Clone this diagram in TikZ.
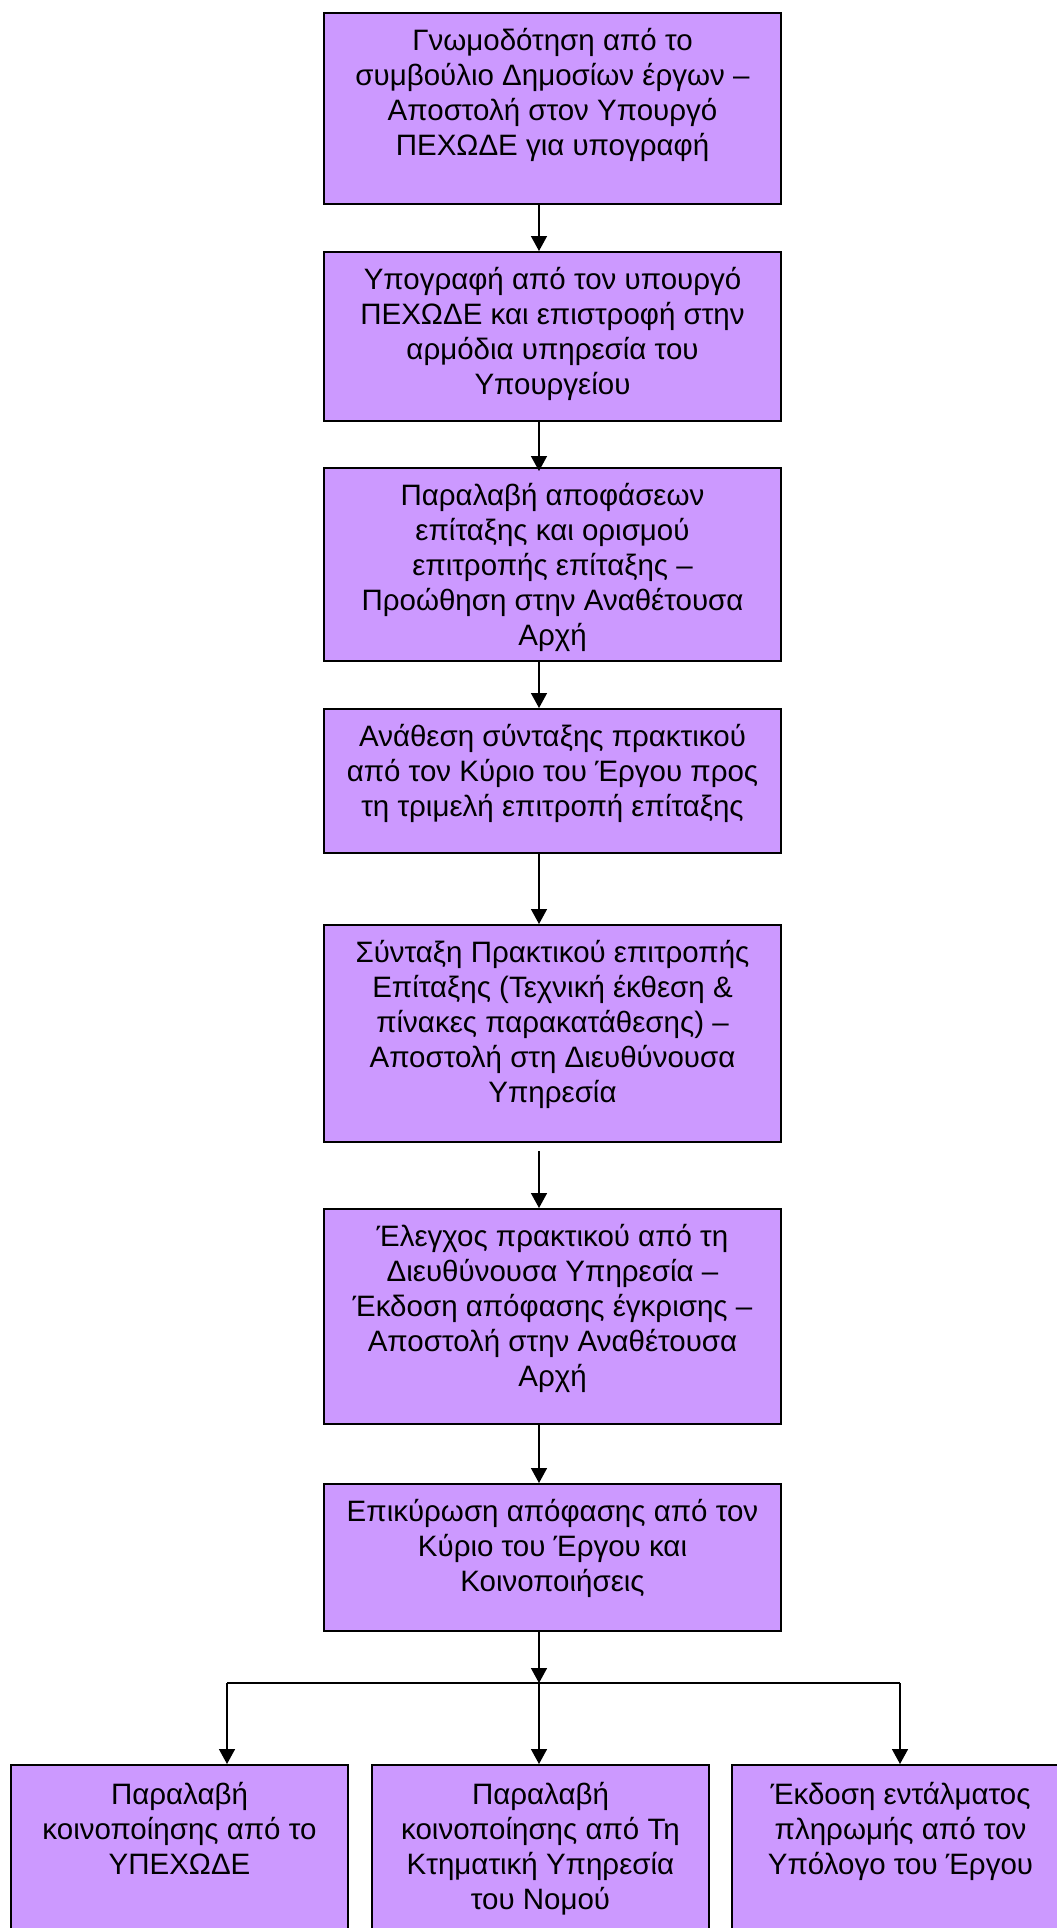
\documentclass[tikz,border=0pt]{standalone}
\usepackage{fontspec}
\setmainfont{Liberation Sans}
\usetikzlibrary{arrows.meta}
\definecolor{boxfill}{HTML}{CC99FF}
\tikzset{
  box/.style={draw=black, line width=2pt, fill=boxfill, inner sep=0pt, anchor=north west},
  link/.style={line width=1.5pt, -{Triangle[width=16pt,length=15pt]}},
  plain/.style={line width=1.5pt},
}
% #1 height, #2 width, #3 space above the first line, #4 lines
\newcommand{\boxbody}[4]{\parbox[t][#1pt][t]{#2pt}{\centering\fontsize{29.5}{35}\selectfont\vspace*{#3pt}\strut#4\par}}
\begin{document}
\begin{tikzpicture}[x=1pt,y=-1pt]
\useasboundingbox (0,0) rectangle (1057,1928);
\fill[white] (0,0) rectangle (1057,1928);

\node[box] (b1) at (323,12) {\boxbody{191}{457}{12.5}{Γνωμοδότηση από το\\ συμβούλιο Δημοσίων έργων –\\ Αποστολή στον Υπουργό\\ ΠΕΧΩΔΕ για υπογραφή}};
\node[box] (b2) at (323,251) {\boxbody{169}{457}{13}{Υπογραφή από τον υπουργό\\ ΠΕΧΩΔΕ και επιστροφή στην\\ αρμόδια υπηρεσία του\\ Υπουργείου}};
\node[box] (b3) at (323,467) {\boxbody{193}{457}{13}{Παραλαβή αποφάσεων\\ επίταξης και ορισμού\\ επιτροπής επίταξης –\\ Προώθηση στην Αναθέτουσα\\ Αρχή}};
\node[box] (b4) at (323,708) {\boxbody{144}{457}{13}{Ανάθεση σύνταξης πρακτικού\\ από τον Κύριο του Έργου προς\\ τη τριμελή επιτροπή επίταξης}};
\node[box] (b5) at (323,924) {\boxbody{217}{457}{13}{Σύνταξη Πρακτικού επιτροπής\\ Επίταξης (Τεχνική έκθεση \&\\ πίνακες παρακατάθεσης) –\\ Αποστολή στη Διευθύνουσα\\ Υπηρεσία}};
\node[box] (b6) at (323,1208) {\boxbody{215}{457}{13}{Έλεγχος πρακτικού από τη\\ Διευθύνουσα Υπηρεσία –\\ Έκδοση απόφασης έγκρισης –\\ Αποστολή στην Αναθέτουσα\\ Αρχή}};
\node[box] (b7) at (323,1483) {\boxbody{147}{457}{13}{Επικύρωση απόφασης από τον\\ Κύριο του Έργου και\\ Κοινοποιήσεις}};

\node[box] (ba) at (10,1764) {\boxbody{190}{337}{14.5}{Παραλαβή\\ κοινοποίησης από το\\ ΥΠΕΧΩΔΕ}};
\node[box] (bb) at (371,1764) {\boxbody{190}{337}{14.5}{Παραλαβή\\ κοινοποίησης από Τη\\ Κτηματική Υπηρεσία\\ του Νομού}};
\node[box] (bc) at (731,1764) {\boxbody{190}{337}{14.5}{Έκδοση εντάλματος\\ πληρωμής από τον\\ Υπόλογο του Έργου}};

% vertical spine of the flow
\coordinate (spine) at (539,0);
\draw[link] (b1.south -| spine) -- (b2.north -| spine);
\draw[link, shorten >=-4pt] (b2.south -| spine) -- (b3.north -| spine);
\draw[link] (b3.south -| spine) -- (b4.north -| spine);
\draw[link] (b4.south -| spine) -- (b5.north -| spine);
\draw[link, shorten <=8pt] (b5.south -| spine) -- (b6.north -| spine);
\draw[link] (b6.south -| spine) -- (b7.north -| spine);

% split into the three final steps
\coordinate (j) at (539,1683);
\coordinate (ja) at (227,1683);
\coordinate (jc) at (900,1683);
\draw[link] (b7.south -| spine) -- (j);
\draw[plain] (ja) -- (jc);
\draw[link] (ja) -- (ba.north -| ja);
\draw[link] (j) -- (bb.north -| j);
\draw[link] (jc) -- (bc.north -| jc);
\end{tikzpicture}
\end{document}
